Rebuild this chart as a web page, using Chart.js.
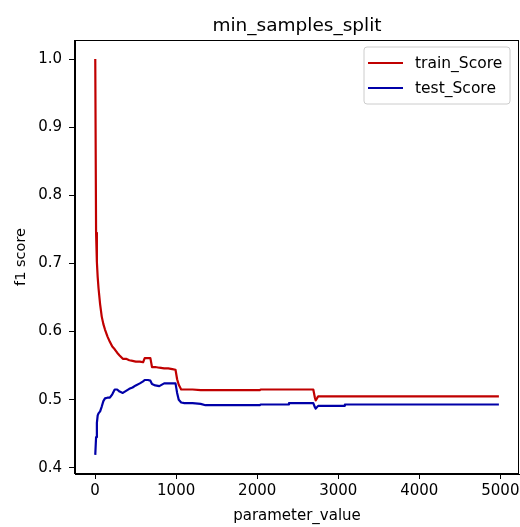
<!DOCTYPE html>
<html>
<head>
<meta charset="utf-8">
<script src="https://cdn.jsdelivr.net/npm/chart.js@4/dist/chart.umd.min.js"></script>
<style>
html,body{margin:0;padding:0;background:#fff;}
#wrap{width:520px;height:527px;}
</style>
</head>
<body>
<div id="wrap"><canvas id="c" width="520" height="527"></canvas></div>
<script>
const chartTitle = "min_samples_split";
const xLabel = "parameter_value";
const yLabel = "f1 score";
const seriesNames = ["train_Score", "test_Score"];

const paramValues = [2, 12, 22, 32, 42, 62, 82, 102, 122, 152, 182, 212, 242, 272, 302, 342, 382, 422, 462, 502, 552, 592, 612, 652, 682, 702, 742, 792, 852, 902, 952, 992, 1012, 1032, 1062, 1102, 1202, 1302, 1362, 1502, 1802, 2032, 2042, 2382, 2392, 2692, 2712, 2722, 2752, 2782, 3072, 3082, 3502, 4002, 4502, 4982];

const trainScore = [1.000, 0.745, 0.702, 0.680, 0.664, 0.640, 0.622, 0.611, 0.603, 0.593, 0.585, 0.578, 0.574, 0.569, 0.565, 0.560, 0.560, 0.558, 0.557, 0.556, 0.556, 0.555, 0.561, 0.561, 0.561, 0.548, 0.548, 0.547, 0.546, 0.546, 0.545, 0.544, 0.530, 0.522, 0.515, 0.515, 0.515, 0.514, 0.514, 0.514, 0.514, 0.514, 0.515, 0.515, 0.515, 0.515, 0.503, 0.499, 0.505, 0.505, 0.505, 0.505, 0.505, 0.505, 0.505, 0.505];

const testScore = [0.419, 0.445, 0.466, 0.477, 0.480, 0.483, 0.490, 0.498, 0.502, 0.503, 0.503, 0.508, 0.515, 0.515, 0.512, 0.510, 0.513, 0.516, 0.518, 0.521, 0.524, 0.527, 0.529, 0.529, 0.528, 0.523, 0.521, 0.520, 0.524, 0.524, 0.524, 0.524, 0.510, 0.500, 0.496, 0.495, 0.495, 0.494, 0.492, 0.492, 0.492, 0.492, 0.493, 0.493, 0.495, 0.495, 0.489, 0.487, 0.491, 0.491, 0.491, 0.493, 0.493, 0.493, 0.493, 0.493];

const xTicks = [0, 1000, 2000, 3000, 4000, 5000];
const yTicks = [0.4, 0.5, 0.6, 0.7, 0.8, 0.9, 1.0];

const FONT = "'DejaVu Sans', sans-serif";
const colors = ["#c00000", "#0000a8"];

const toPoints = (ys) => paramValues.map((x, i) => ({x: x, y: ys[i]}));

const framePlugin = {
  id: 'frameAndText',
  afterDraw(chart) {
    const ctx = chart.ctx;
    const a = chart.chartArea;
    ctx.save();
    ctx.strokeStyle = '#000';
    ctx.lineWidth = 1;
    ctx.strokeRect(Math.round(a.left) - 0.5, Math.round(a.top) + 0.5, Math.round(a.right - a.left), Math.round(a.bottom - a.top) - 1);
    ctx.fillStyle = '#000';
    ctx.font = "18.5px " + FONT;
    ctx.textAlign = 'center';
    ctx.textBaseline = 'alphabetic';
    ctx.fillText(chartTitle, (a.left + a.right) / 2, 31);
    const bx = 364, by = 47, bw = 146, bh = 57, r = 3;
    ctx.beginPath();
    ctx.moveTo(bx + r, by);
    ctx.lineTo(bx + bw - r, by);
    ctx.arcTo(bx + bw, by, bx + bw, by + r, r);
    ctx.lineTo(bx + bw, by + bh - r);
    ctx.arcTo(bx + bw, by + bh, bx + bw - r, by + bh, r);
    ctx.lineTo(bx + r, by + bh);
    ctx.arcTo(bx, by + bh, bx, by + bh - r, r);
    ctx.lineTo(bx, by + r);
    ctx.arcTo(bx, by, bx + r, by, r);
    ctx.closePath();
    ctx.fillStyle = 'rgba(255,255,255,0.8)';
    ctx.fill();
    ctx.strokeStyle = '#cccccc';
    ctx.lineWidth = 1;
    ctx.stroke();
    ctx.font = "15.5px " + FONT;
    ctx.textAlign = 'left';
    ctx.textBaseline = 'middle';
    seriesNames.forEach((name, i) => {
      const y = 63 + i * 25;
      ctx.strokeStyle = colors[i];
      ctx.lineWidth = 2.2;
      ctx.beginPath();
      ctx.moveTo(368, y);
      ctx.lineTo(403, y);
      ctx.stroke();
      ctx.fillStyle = '#000';
      ctx.fillText(name, 415, y + 1);
    });
    ctx.restore();
  }
};

new Chart(document.getElementById('c'), {
  type: 'line',
  data: {
    datasets: [
      {label: seriesNames[0], data: toPoints(trainScore), borderColor: colors[0], borderWidth: 2.2, pointRadius: 0, tension: 0, fill: false, borderJoinStyle: 'round'},
      {label: seriesNames[1], data: toPoints(testScore), borderColor: colors[1], borderWidth: 2.2, pointRadius: 0, tension: 0, fill: false, borderJoinStyle: 'round'}
    ]
  },
  options: {
    responsive: false,
    animation: false,
    devicePixelRatio: 1,
    layout: {padding: {top: 40, right: 1, bottom: 0, left: 0}},
    plugins: {legend: {display: false}, title: {display: false}, tooltip: {enabled: false}},
    scales: {
      x: {
        type: 'linear',
        min: -248,
        max: 5230,
        afterFit(s) { s.height = 53; s.paddingLeft = 0; s.paddingRight = 0; },
        afterBuildTicks(s) { s.ticks = xTicks.map(v => ({value: v})); },
        ticks: {
          color: '#000',
          font: {family: FONT, size: 15},
          padding: 3,
          maxRotation: 0,
          autoSkip: false,
          callback: (v) => String(v)
        },
        grid: {display: true, drawOnChartArea: false, drawTicks: true, tickLength: 5, color: '#000'},
        border: {display: true, color: '#000', width: 1},
        title: {display: true, text: xLabel, color: '#000', font: {family: FONT, size: 15}, padding: {top: 0, bottom: 2}}
      },
      y: {
        type: 'linear',
        min: 0.391,
        max: 1.028,
        afterFit(s) { s.width = 75; s.paddingTop = 0; s.paddingBottom = 0; },
        afterBuildTicks(s) { s.ticks = yTicks.map(v => ({value: v})); },
        ticks: {
          color: '#000',
          font: {family: FONT, size: 15},
          padding: 7,
          autoSkip: false,
          callback: (v) => Number(v).toFixed(1)
        },
        grid: {display: true, drawOnChartArea: false, drawTicks: true, tickLength: 6, color: '#000'},
        border: {display: true, color: '#000', width: 1},
        title: {display: true, text: yLabel, color: '#000', font: {family: FONT, size: 14.5}, padding: {top: 13, bottom: 0}}
      }
    }
  },
  plugins: [framePlugin]
});
</script>
</body>
</html>
